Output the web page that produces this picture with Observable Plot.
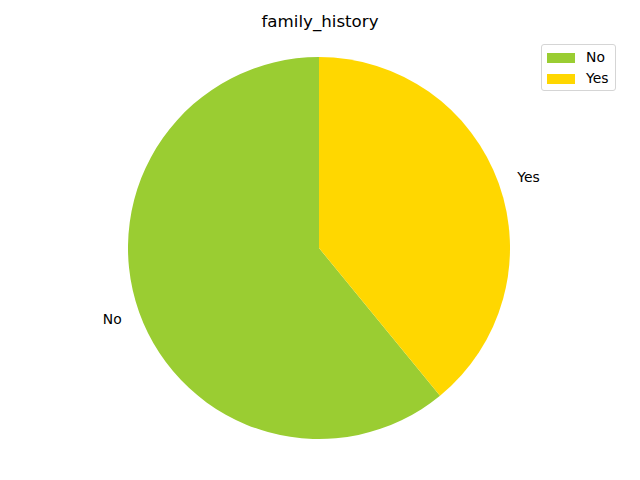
<!DOCTYPE html>
<html>
<head>
<meta charset="utf-8">
<script src="https://cdn.jsdelivr.net/npm/d3@7"></script>
<script src="https://cdn.jsdelivr.net/npm/@observablehq/plot@0.6"></script>
<style>
  html, body { margin: 0; padding: 0; background: #fff; }
  #wrap { position: relative; width: 640px; height: 480px; font-family: "DejaVu Sans", sans-serif; }
  #title { position: absolute; left: 0; width: 640px; top: 12px; text-align: center; font-size: 16.67px; color: #000; line-height: 20px; }
  #legend { position: absolute; left: 541px; top: 44px; width: 73px; height: 45px; border: 1px solid #d5d5d5; border-radius: 3px; background: rgba(255,255,255,0.8); box-sizing: content-box; }
  .li { position: absolute; left: 5px; height: 16px; font-size: 13.9px; line-height: 16px; }
  .sw { position: absolute; left: 0; top: 1px; width: 28px; height: 10px; }
  .lt { position: absolute; left: 39px; top: -3px; white-space: nowrap; }
</style>
</head>
<body>
<div id="wrap">
  <div id="title">family_history</div>
  <div id="legend"></div>
</div>
<script>
const categories = ["No", "Yes"];
const counts = [767, 492];
const colors = ["yellowgreen", "gold"];
const chartTitle = "family_history";

const data = categories.map((c, i) => ({label: c, value: counts[i], color: colors[i]}));
// matplotlib pie: startangle 90, counterclockwise
const pie = d3.pie().value(d => d.value).sort(null)
  .startAngle(0).endAngle(-2 * Math.PI);
const arcs = pie(data);
const slices = arcs.map(a => {
  const mid = (a.startAngle + a.endAngle) / 2;
  return {
    label: a.data.label,
    lx: 1.1 * Math.sin(mid),
    ly: 1.1 * Math.cos(mid)
  };
});

const pieMark = (index, scales, values, dimensions, context) => {
  const cx = scales.x(0), cy = scales.y(0);
  const r = Math.abs(scales.x(1) - scales.x(0));
  const arc = d3.arc().innerRadius(0).outerRadius(r);
  const g = d3.create("svg:g").attr("transform", `translate(${cx},${cy})`);
  g.selectAll("path").data(arcs).join("path")
    .attr("d", arc).attr("fill", d => d.data.color);
  return g.node();
};

const chart = Plot.plot({
  width: 640,
  height: 480,
  marginLeft: 128,
  marginRight: 130,
  marginTop: 57,
  marginBottom: 41,
  x: {domain: [-1, 1], axis: null},
  y: {domain: [-1, 1], axis: null},
  style: {fontFamily: "DejaVu Sans, sans-serif", background: "white"},
  marks: [
    pieMark,
    Plot.text(slices.filter(d => d.lx >= 0), {
      x: "lx", y: "ly", text: "label", textAnchor: "start",
      fontSize: 13.9, fill: "black"
    }),
    Plot.text(slices.filter(d => d.lx < 0), {
      x: "lx", y: "ly", text: "label", textAnchor: "end",
      fontSize: 13.9, fill: "black"
    })
  ]
});
document.getElementById("wrap").prepend(chart);
chart.style.position = "absolute"; chart.style.left = "0"; chart.style.top = "0";
document.getElementById("title").textContent = chartTitle;

const legend = document.getElementById("legend");
data.forEach((d, i) => {
  const item = document.createElement("div");
  item.className = "li";
  item.style.top = (7 + i * 21) + "px";
  item.innerHTML = `<div class="sw" style="background:${d.color}"></div><div class="lt">${d.label}</div>`;
  legend.appendChild(item);
});
</script>
</body>
</html>
